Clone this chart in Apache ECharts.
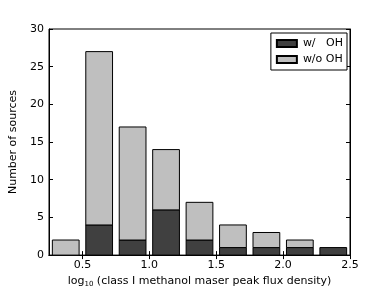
<!DOCTYPE html>
<html><head><meta charset="utf-8">
<script src="https://cdn.jsdelivr.net/npm/echarts@6/dist/echarts.min.js"></script>
<style>html,body{margin:0;padding:0;background:#fff}#c{width:390px;height:293px}</style>
</head><body><div id="c"></div>
<script>
var binCenters = [0.375, 0.625, 0.875, 1.125, 1.375, 1.625, 1.875, 2.125, 2.375];
var withOH = [0, 4, 2, 6, 2, 1, 1, 1, 1];
var withoutOH = [2, 23, 15, 8, 5, 3, 2, 1, 0];
var xTicks = [0.5, 1.0, 1.5, 2.0, 2.5];
var yTicks = [0, 5, 10, 15, 20, 25, 30];
var barHalf = 0.1;

var font = 'DejaVu Sans';
var chart = echarts.init(document.getElementById('c'), null, {renderer: 'canvas'});
function stacked(vals, bases){ return binCenters.map(function(x,i){ var b = bases ? bases[i] : 0; return [x, b, b + vals[i]]; }); }
function renderBar(params, api){
  var x = api.value(0), b = api.value(1), t = api.value(2);
  if (t <= b) return null;
  var p0 = api.coord([x - barHalf, t]);
  var p1 = api.coord([x + barHalf, b]);
  return {
    type: 'rect',
    shape: {x: p0[0], y: p0[1], width: p1[0] - p0[0], height: p1[1] - p0[1]},
    style: api.style({stroke: '#000', lineWidth: 1})
  };
}
var tickStyle = {show: true, inside: true, length: 4, lineStyle: {color: '#000', width: 1}};
chart.setOption({
  animation: false,
  textStyle: {fontFamily: font},
  grid: {left: 49, right: 40, top: 29, bottom: 30, show: true, borderColor: '#000', borderWidth: 1},
  legend: {
    right: 43, top: 33, orient: 'vertical', itemWidth: 20, itemHeight: 7, itemGap: 5,
    padding: [5, 4, 5, 5], borderColor: '#000', borderWidth: 1, backgroundColor: '#fff',
    textStyle: {fontFamily: font, fontSize: 11, color: '#000', padding: [0, 0, 0, 1]},
    data: [{name: 'w/   OH', icon: 'rect'}, {name: 'w/o OH', icon: 'rect'}]
  },
  xAxis: [{
    type: 'value', min: 0.25, max: 2.5,
    axisLine: {show: true, lineStyle: {color: '#000'}},
    axisTick: Object.assign({customValues: xTicks}, tickStyle), splitLine: {show: false},
    axisLabel: {customValues: xTicks, fontFamily: font, fontSize: 11, color: '#000', margin: 5,
      formatter: function(v){ return v.toFixed(1); }},
    name: '{a|log}{s|10}{a| (class I methanol maser peak flux density)}',
    nameLocation: 'middle', nameGap: 16,
    nameTextStyle: {rich: {a: {fontFamily: font, fontSize: 11, color: '#000'}, s: {fontFamily: font, fontSize: 7, color: '#000', verticalAlign: 'bottom', padding: [6,0,0,0]}}}
  }, {
    type: 'value', position: 'top', min: 0.25, max: 2.5,
    axisLine: {show: true, lineStyle: {color: '#000'}}, axisTick: Object.assign({customValues: xTicks}, tickStyle),
    axisLabel: {show: false}, splitLine: {show: false}
  }],
  yAxis: [{
    type: 'value', min: 0, max: 30, interval: 5,
    axisLine: {show: true, lineStyle: {color: '#000'}}, axisTick: tickStyle, splitLine: {show: false},
    axisLabel: {fontFamily: font, fontSize: 11, color: '#000', margin: 5},
    name: 'Number of sources', nameLocation: 'middle', nameGap: 24,
    nameTextStyle: {fontFamily: font, fontSize: 11, color: '#000'}
  }, {
    type: 'value', position: 'right', min: 0, max: 30, interval: 5,
    axisLine: {show: true, lineStyle: {color: '#000'}}, axisTick: tickStyle,
    axisLabel: {show: false}, splitLine: {show: false}
  }],
  series: [{
    name: 'w/   OH', type: 'custom', renderItem: renderBar, data: stacked(withOH),
    encode: {x: 0, y: [1, 2]},
    itemStyle: {color: '#404040', borderColor: '#000', borderWidth: 1}
  }, {
    name: 'w/o OH', type: 'custom', renderItem: renderBar, data: stacked(withoutOH, withOH),
    encode: {x: 0, y: [1, 2]},
    itemStyle: {color: '#bfbfbf', borderColor: '#000', borderWidth: 1}
  }]
});
</script></body></html>
